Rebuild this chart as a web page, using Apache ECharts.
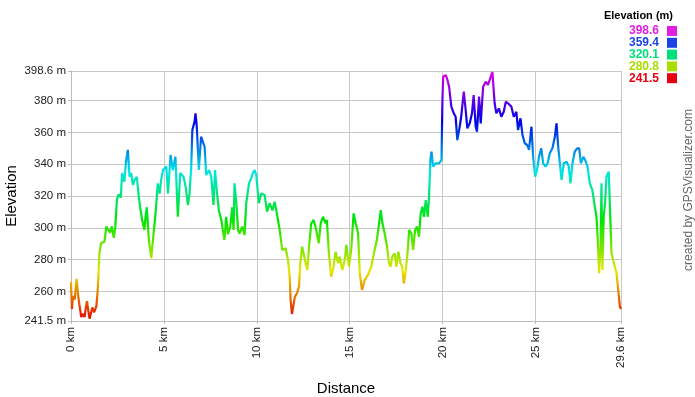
<!DOCTYPE html>
<html>
<head>
<meta charset="utf-8">
<script src="https://cdn.jsdelivr.net/npm/echarts@6/dist/echarts.min.js"></script>
<style>
  html, body { margin: 0; padding: 0; background: #fff; }
  #chart { width: 695px; height: 397px; }
</style>
</head>
<body>
<div id="chart"></div>
<script>
// distance along the track (km) and elevation (m)
const distKm = [
  0, 0.05, 0.1, 0.2, 0.3, 0.38, 0.45, 0.55, 0.65, 0.73, 0.8, 0.86, 0.93, 1.0, 1.08, 1.15, 1.25, 1.37, 1.45, 1.53,
  1.62, 1.8, 1.9, 2.0, 2.1, 2.2, 2.3, 2.38, 2.47, 2.55, 2.68, 2.75, 2.87, 2.97, 3.06, 3.15, 3.24, 3.33, 3.42, 3.54,
  3.65, 3.72, 3.83, 3.95, 4.02, 4.08, 4.19, 4.32, 4.41, 4.55, 4.67, 4.77, 4.85, 4.95, 5.13, 5.22, 5.36, 5.48, 5.62, 5.75,
  5.88, 6.06, 6.17, 6.29, 6.38, 6.47, 6.53, 6.65, 6.7, 6.77, 6.88, 7.0, 7.1, 7.19, 7.28, 7.43, 7.55, 7.67, 7.75, 7.86,
  7.96, 8.09, 8.18, 8.26, 8.35, 8.45, 8.57, 8.68, 8.75, 8.8, 8.9, 8.99, 9.07, 9.22, 9.34, 9.43, 9.58, 9.7, 9.79, 9.88,
  9.97, 10.11, 10.24, 10.42, 10.55, 10.69, 10.84, 10.96, 11.08, 11.23, 11.37, 11.55, 11.68, 11.77, 11.82, 11.89, 11.98, 12.05, 12.16, 12.27,
  12.34, 12.44, 12.53, 12.63, 12.72, 12.81, 12.93, 13.06, 13.2, 13.33, 13.44, 13.56, 13.7, 13.77, 13.88, 14.0, 14.13, 14.24, 14.37, 14.46,
  14.6, 14.73, 14.82, 14.96, 15.08, 15.21, 15.32, 15.45, 15.54, 15.66, 15.81, 15.98, 16.16, 16.34, 16.46, 16.58, 16.67, 16.76, 16.88, 17.01,
  17.11, 17.2, 17.29, 17.42, 17.51, 17.62, 17.73, 17.83, 17.91, 18.0, 18.11, 18.2, 18.32, 18.41, 18.52, 18.62, 18.73, 18.82, 18.91, 19.0,
  19.09, 19.2, 19.27, 19.34, 19.4, 19.49, 19.63, 19.81, 19.94, 19.99, 20.03, 20.17, 20.26, 20.35, 20.47, 20.6, 20.7, 20.79, 20.92, 21.0,
  21.14, 21.24, 21.33, 21.46, 21.58, 21.67, 21.78, 21.85, 21.96, 22.05, 22.18, 22.32, 22.44, 22.53, 22.68, 22.8, 22.89, 23.03, 23.16, 23.29,
  23.4, 23.52, 23.7, 23.83, 23.97, 24.06, 24.19, 24.3, 24.42, 24.55, 24.65, 24.78, 24.87, 24.98, 25.08, 25.19, 25.31, 25.41, 25.54, 25.65,
  25.77, 25.91, 26.04, 26.13, 26.22, 26.31, 26.4, 26.52, 26.67, 26.79, 26.88, 26.99, 27.11, 27.24, 27.35, 27.44, 27.57, 27.67, 27.8, 27.92,
  28.06, 28.19, 28.28, 28.35, 28.42, 28.5, 28.55, 28.6, 28.67, 28.74, 28.82, 28.94, 29.0, 29.09, 29.22, 29.36, 29.45, 29.54, 29.6
];
const elevM = [
  266, 249, 257, 255, 268, 258, 252, 244, 246, 244, 250, 254, 248, 243, 242, 250, 247, 251, 263, 284,
  290.5, 291.3, 300.8, 300, 297, 301, 293.7, 300, 317.5, 321, 319, 334.5, 329, 342.7, 349, 332.2, 334.5, 327, 330, 332,
  319.6, 313, 305, 298.7, 308, 313, 292.4, 281, 292.4, 309, 328, 321.6, 330, 336.4, 338.5, 321.6, 345.8, 336.4, 344.7, 307,
  334.5, 332, 325.9, 314.4, 321.6, 338.5, 361.5, 366.7, 372, 363.6, 336.4, 357.3, 358.4, 351, 333.2, 336.4, 332, 314.4, 336.4, 321.6,
  311, 305, 298, 292.4, 307, 296, 300.8, 313, 298.7, 328, 315.5, 298.7, 296.5, 300.8, 295.5, 315.5, 328, 331.2, 334.5, 336.4,
  333.2, 315.5, 321.6, 320.7, 310.2, 315.5, 311, 316.5, 309, 298.7, 286.1, 287.2, 279.8, 269.3, 254.7, 245.9, 246.3, 256.8, 258.9, 263.1,
  277.8, 288.2, 288.2, 277.8, 273.5, 288.2, 302.9, 305, 298.7, 290.3, 302.9, 307, 302.9, 305, 284, 269.3, 275.6, 285, 277.8, 281.9,
  273.5, 279.8, 289.3, 275.6, 286.1, 309.2, 302.9, 296.6, 271.5, 261, 267.3, 270.4, 275.6, 286.1, 292.4, 302.9, 311.2, 302.9, 296.6, 288.2,
  277.8, 275.6, 281.9, 284, 275.6, 285, 277.8, 275.6, 265.2, 271.5, 284, 298.7, 296.6, 286.1, 298.7, 300.8, 294.5, 309.2, 313.3, 307,
  317.5, 307, 319.6, 342.7, 347.9, 338.5, 340.6, 340.6, 342.7, 380.4, 395, 396, 393, 388.7, 376.2, 372, 369.9, 355.2, 363.6, 369.9,
  385.6, 374.1, 362.6, 365.7, 372, 383.5, 363.6, 360.5, 382.5, 365.7, 388.7, 391.9, 389.8, 389.8, 398, 378.3, 372, 375.1, 369.9, 373,
  379.3, 378.3, 376.2, 369.9, 373, 361.5, 368.9, 358.4, 353.2, 352.1, 349, 363.6, 344.7, 332.2, 336.4, 344.7, 350, 340.6, 338.5, 340.6,
  346.9, 350, 357.3, 365.7, 351, 340.6, 330.1, 340.6, 341.6, 338.5, 328, 340.6, 347.9, 350, 350, 340.6, 344.7, 342.7, 338.5, 328,
  323.8, 313.3, 307, 292.4, 271.5, 288.2, 328, 273.5, 307, 315.5, 332.2, 335.3, 334.3, 284, 277.8, 271.5, 261, 250.5, 249
];

const yTicks = [241.5, 260, 280, 300, 320, 340, 360, 380, 398.6];
const xTicks = [0, 5, 10, 15, 20, 25, 29.6];
const legendValues = ['398.6', '359.4', '320.1', '280.8', '241.5'];
const legendColors = ['#e21ee2', '#1a44e6', '#00e07a', '#aadd00', '#e60012'];
const hueColors = ['#e60000', '#e67300', '#e6e600', '#73e600', '#00e600', '#00e673',
  '#00e6e6', '#0073e6', '#0000e6', '#7300e6', '#e600e6'];

const points = distKm.map((d, i) => [d, elevM[i]]);

const font = 'Arial, "Liberation Sans", sans-serif';

const legendGraphics = [{
  type: 'text', x: 673, y: 16,
  style: { text: 'Elevation (m)', font: 'bold 11px ' + font, fill: '#000', align: 'right', verticalAlign: 'middle' }
}];
legendValues.forEach((v, i) => {
  const y = 31 + i * 11.8;
  legendGraphics.push({
    type: 'text', x: 659, y: y,
    style: { text: v, font: 'bold 12px ' + font, fill: legendColors[i], align: 'right', verticalAlign: 'middle' }
  });
  legendGraphics.push({
    type: 'rect', x: 667, y: y - 5,
    shape: { width: 10, height: 10 },
    style: { fill: legendColors[i] }
  });
});
legendGraphics.push({
  type: 'text', x: 689, y: 190, rotation: Math.PI / 2,
  style: { text: 'created by GPSVisualizer.com', font: '12px ' + font, fill: '#666', align: 'center', verticalAlign: 'middle' }
});

const chart = echarts.init(document.getElementById('chart'));
chart.setOption({
  animation: false,
  grid: { left: 71, right: 74, top: 71, bottom: 76, outerBoundsMode: 'none', containLabel: false },
  xAxis: {
    type: 'value', min: 0, max: 29.6,
    name: 'Distance', nameLocation: 'middle', nameGap: 60, nameMoveOverlap: false,
    nameTextStyle: { fontFamily: font, fontSize: 15, color: '#000' },
    axisLine: { lineStyle: { color: '#bbb' } },
    axisTick: { show: true, length: 3, lineStyle: { color: '#bbb' }, customValues: xTicks },
    axisLabel: {
      customValues: xTicks, rotate: 90, margin: 6,
      fontFamily: font, fontSize: 11.5, color: '#222',
      formatter: v => v + ' km'
    },
    splitLine: { show: true, lineStyle: { color: '#c8c8c8', width: 1 } }
  },
  yAxis: {
    type: 'value', min: 241.5, max: 398.6,
    name: 'Elevation', nameLocation: 'middle', nameGap: 52, nameRotate: 90, nameMoveOverlap: false,
    nameTextStyle: { fontFamily: font, fontSize: 15, color: '#000' },
    axisLine: { show: true, lineStyle: { color: '#bbb' } },
    axisTick: { show: true, length: 3, lineStyle: { color: '#bbb' }, customValues: yTicks },
    axisLabel: {
      customValues: yTicks, margin: 5,
      fontFamily: font, fontSize: 11.5, color: '#222',
      formatter: v => v + ' m'
    },
    splitLine: { show: true, lineStyle: { color: '#c8c8c8', width: 1 } }
  },
  visualMap: {
    show: false, type: 'continuous', dimension: 1,
    min: 241.5, max: 398.6,
    inRange: { color: hueColors }
  },
  graphic: legendGraphics,
  series: [{
    type: 'line',
    data: points,
    showSymbol: false,
    lineStyle: { width: 2.2 }
  }]
});
</script>
</body>
</html>
